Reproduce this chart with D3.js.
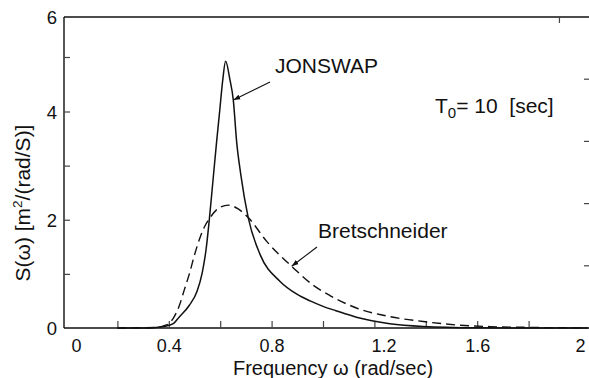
<!DOCTYPE html>
<html>
<head>
<meta charset="utf-8">
<script src="https://cdn.jsdelivr.net/npm/d3@7"></script>
<style>
  html, body { margin: 0; padding: 0; background: #fff; }
  svg { display: block; font-family: "Liberation Sans", Arial, sans-serif; }
</style>
</head>
<body>
<svg id="chart" width="589" height="378"></svg>
<script>
// Wave spectra for a peak period T0 = 10 s
const omegaJonswap = [0.20, 0.30, 0.35, 0.40, 0.42, 0.44, 0.48, 0.51, 0.53, 0.545, 0.558, 0.573, 0.586, 0.597, 0.61, 0.621, 0.638, 0.651, 0.664, 0.68, 0.709, 0.755, 0.833, 0.90, 0.95, 1.00, 1.05, 1.13, 1.26, 1.39, 1.60, 1.80, 2.03];
const sJonswap     = [0.00, 0.00, 0.01, 0.05, 0.09, 0.20, 0.42, 0.68, 1.02, 1.45, 2.02, 2.78, 3.44, 3.96, 4.58, 4.92, 4.58, 4.21, 3.44, 2.84, 2.04, 1.36, 0.86, 0.62, 0.50, 0.40, 0.32, 0.20, 0.08, 0.03, 0.005, 0.00, 0.00];

const omegaBretsch = [0.20, 0.30, 0.35, 0.38, 0.40, 0.42, 0.44, 0.46, 0.48, 0.50, 0.52, 0.54, 0.558, 0.59, 0.632, 0.67, 0.709, 0.781, 0.878, 0.962, 1.027, 1.13, 1.26, 1.39, 1.52, 1.65, 1.79, 1.90, 2.03];
const sBretsch     = [0.00, 0.005, 0.01, 0.04, 0.08, 0.20, 0.40, 0.70, 1.00, 1.35, 1.65, 1.88, 2.02, 2.20, 2.27, 2.20, 2.04, 1.60, 1.14, 0.79, 0.60, 0.37, 0.21, 0.12, 0.056, 0.025, 0.012, 0.005, 0.002];

const xTickValues = [0, 0.2, 0.4, 0.6, 0.8, 1.0, 1.2, 1.4, 1.6, 1.8, 2.0];
const xTickLabels = ["0", "", "0.4", "", "0.8", "", "1.2", "", "1.6", "", "2"];
const yTickValues = [0, 1, 2, 3, 4, 5, 6];
const yTickLabels = ["0", "", "2", "", "4", "", "6"];

const svg = d3.select("#chart");
const W = 589, H = 378;
const plotLeft = 64, plotTop = 17, plotBottom = 328;

const x = d3.scaleLinear().domain([0, 2]).range([66, 580]);
// vertical axis as printed: upper span slightly compressed
const y = d3.scaleLinear().domain([0, 4, 5, 6]).range([plotBottom, 111.5, 57, plotTop]);
// tick scale of the adjoining frame on the right edge
const yRight = d3.scaleLinear().domain([0, 5]).range([plotBottom, plotTop]);

const ink = "#111";

// frame: left, bottom and top edges
svg.append("line").attr("x1", plotLeft).attr("x2", plotLeft).attr("y1", plotTop).attr("y2", plotBottom)
  .attr("stroke", ink).attr("stroke-width", 1.4);
svg.append("line").attr("x1", plotLeft).attr("x2", W).attr("y1", plotBottom).attr("y2", plotBottom)
  .attr("stroke", ink).attr("stroke-width", 1.4);
svg.append("line").attr("x1", plotLeft).attr("x2", W).attr("y1", plotTop).attr("y2", plotTop)
  .attr("stroke", ink).attr("stroke-width", 1.4);

// bottom axis ticks (pointing inward) and labels
const labelShift = new Map([[0, 10], [1.2, 9]]);
const xAxis = d3.axisBottom(x).tickValues(xTickValues).tickSizeInner(-7).tickSizeOuter(0)
  .tickFormat((d, i) => xTickLabels[i]).tickPadding(11);
const gx = svg.append("g").attr("transform", `translate(0,${plotBottom})`).call(xAxis);
gx.select(".domain").remove();
gx.selectAll(".tick line").attr("stroke", "#444").attr("stroke-width", 1.2)
  .filter(d => d === 0 || d === 2).remove();
gx.selectAll(".tick text").attr("font-size", 18).attr("fill", ink)
  .attr("font-family", "Liberation Sans, Arial, sans-serif").attr("dy", "0.71em").attr("y", 11)
  .attr("x", d => labelShift.get(d) || 0);

// left axis ticks (pointing inward) and labels
const yAxis = d3.axisLeft(y).tickValues(yTickValues).tickSizeInner(-6).tickSizeOuter(0)
  .tickFormat((d, i) => yTickLabels[i]).tickPadding(8);
const gy = svg.append("g").attr("transform", `translate(${plotLeft},0)`).call(yAxis);
gy.select(".domain").remove();
gy.selectAll(".tick line").attr("stroke", "#444").attr("stroke-width", 1.2)
  .filter(d => d === 0 || d === 6).remove();
gy.selectAll(".tick text").attr("font-size", 18.5).attr("fill", ink)
  .attr("font-family", "Liberation Sans, Arial, sans-serif").attr("x", -7).attr("dy", "0.36em");

// right-edge ticks
svg.append("g").selectAll("line").data([1, 2, 3, 4]).join("line")
  .attr("x1", 584).attr("x2", W).attr("y1", d => yRight(d)).attr("y2", d => yRight(d))
  .attr("stroke", "#444").attr("stroke-width", 1.2);
// top-edge tick
svg.append("line").attr("x1", x(1.92)).attr("x2", x(1.92)).attr("y1", plotTop).attr("y2", plotTop + 6)
  .attr("stroke", "#444").attr("stroke-width", 1.2);

// spectra
const line = d3.line().x(d => x(d[0])).y(d => y(d[1])).curve(d3.curveMonotoneX);
svg.append("path").datum(d3.zip(omegaBretsch, sBretsch)).attr("d", line)
  .attr("fill", "none").attr("stroke", ink).attr("stroke-width", 1.4)
  .attr("stroke-dasharray", "9,5");
svg.append("path").datum(d3.zip(omegaJonswap, sJonswap)).attr("d", line)
  .attr("fill", "none").attr("stroke", ink).attr("stroke-width", 1.5);

// annotations with arrows
svg.append("defs").append("marker").attr("id", "head").attr("viewBox", "0 0 10 10")
  .attr("refX", 10).attr("refY", 5).attr("markerWidth", 7).attr("markerHeight", 7)
  .attr("orient", "auto").attr("markerUnits", "userSpaceOnUse")
  .append("path").attr("d", "M0,1.5 L10,5 L0,8.5 Z").attr("fill", ink);

svg.append("line").attr("x1", 270).attr("y1", 82).attr("x2", x(0.651)).attr("y2", y(4.21))
  .attr("stroke", ink).attr("stroke-width", 1.1).attr("marker-end", "url(#head)");
svg.append("line").attr("x1", 317).attr("y1", 247).attr("x2", x(0.878)).attr("y2", y(1.14))
  .attr("stroke", ink).attr("stroke-width", 1.1).attr("marker-end", "url(#head)");

svg.append("text").attr("x", 275).attr("y", 73).attr("font-size", 21).attr("fill", ink)
  .text("JONSWAP");
svg.append("text").attr("x", 318).attr("y", 238).attr("font-size", 21).attr("fill", ink)
  .text("Bretschneider");

const t0 = svg.append("text").attr("x", 435).attr("y", 113).attr("font-size", 21).attr("fill", ink);
t0.append("tspan").text("T");
t0.append("tspan").attr("font-size", 15).attr("dy", 5).text("0");
t0.append("tspan").attr("dy", -5).text("= 10\u00a0\u00a0[sec]");

// axis titles
svg.append("text").attr("x", 333).attr("y", 374.5).attr("text-anchor", "middle")
  .attr("font-size", 20).attr("fill", ink).text("Frequency ω (rad/sec)");

const yt = svg.append("text").attr("transform", "translate(30,203) rotate(-90)")
  .attr("text-anchor", "middle").attr("font-size", 21).attr("fill", ink);
yt.append("tspan").text("S(ω) [m");
yt.append("tspan").attr("font-size", 13.5).attr("dy", -8).text("2");
yt.append("tspan").attr("dy", 8).text("/(rad/S)]");
</script>
</body>
</html>
